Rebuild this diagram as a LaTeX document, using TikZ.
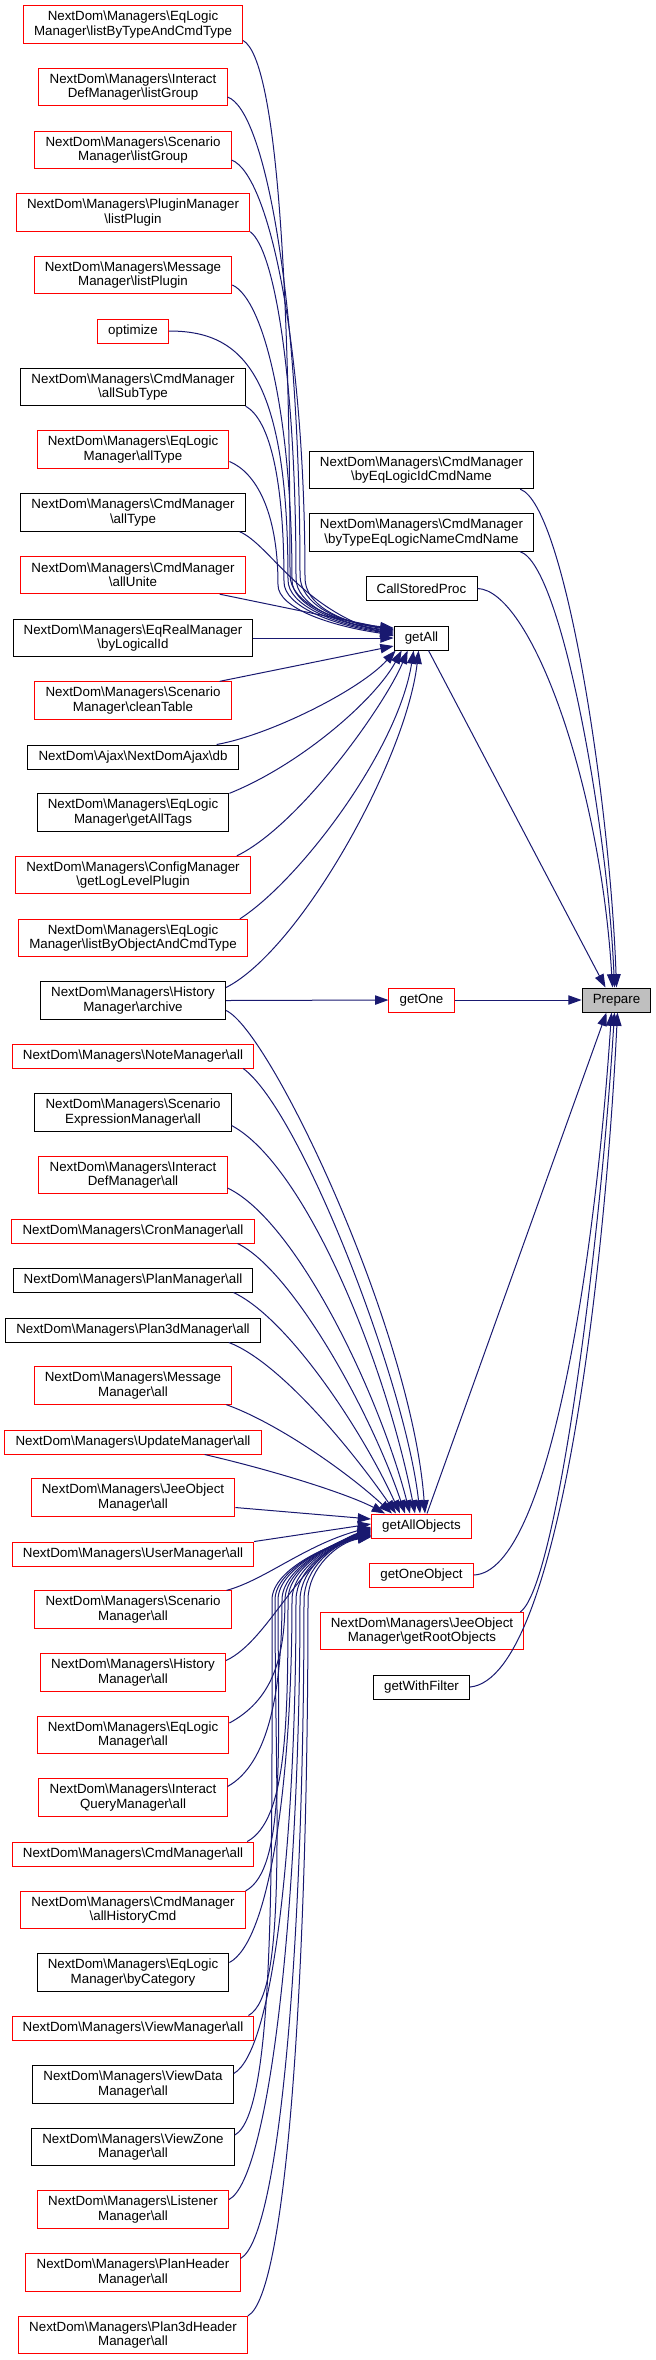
\documentclass[tikz,border=0pt]{standalone}
\usepackage{fontspec}
\setmainfont{Liberation Sans}
\usetikzlibrary{arrows.meta,calc}
\definecolor{edgeblue}{HTML}{191970}
\definecolor{prepfill}{HTML}{BFBFBF}
\definecolor{boxred}{HTML}{FF0000}
\newcommand{\bs}{\textbackslash}
\begin{document}
\begin{tikzpicture}[x=0.75pt,y=-0.75pt,
  box/.style={draw, line width=0.75pt, fill=white, inner xsep=8pt, inner ysep=0pt, align=center, font=\fontsize{10}{10.75}\selectfont},
  one/.style={box, minimum height=18pt},
  two/.style={box, minimum height=28pt},
  rd/.style={draw=boxred},
  bk/.style={draw=black},
  edge/.style={draw=edgeblue, line width=0.75pt, -{Triangle[length=10pt,width=7pt]}},
]
\useasboundingbox (0,0) rectangle (656,2360);

% left column
\node[two,rd] (n1) at (133,24.5) {NextDom\bs Managers\bs EqLogic\\Manager\bs listByTypeAndCmdType};
\node[two,rd] (n2) at (133,87) {NextDom\bs Managers\bs Interact\\DefManager\bs listGroup};
\node[two,rd] (n3) at (133,150) {NextDom\bs Managers\bs Scenario\\Manager\bs listGroup};
\node[two,rd] (n4) at (133,212.5) {NextDom\bs Managers\bs PluginManager\\\bs listPlugin};
\node[two,rd] (n5) at (133,275) {NextDom\bs Managers\bs Message\\Manager\bs listPlugin};
\node[one,rd] (n6) at (133,331) {optimize};
\node[two,bk] (n7) at (133,387) {NextDom\bs Managers\bs CmdManager\\\bs allSubType};
\node[two,rd] (n8) at (133,449.5) {NextDom\bs Managers\bs EqLogic\\Manager\bs allType};
\node[two,bk] (n9) at (133,512.5) {NextDom\bs Managers\bs CmdManager\\\bs allType};
\node[two,rd] (n10) at (133,575) {NextDom\bs Managers\bs CmdManager\\\bs allUnite};
\node[two,bk] (n11) at (133,638) {NextDom\bs Managers\bs EqRealManager\\\bs byLogicalId};
\node[two,rd] (n12) at (133,700.5) {NextDom\bs Managers\bs Scenario\\Manager\bs cleanTable};
\node[one,bk] (n13) at (133,757) {NextDom\bs Ajax\bs NextDomAjax\bs db};
\node[two,bk] (n14) at (133,812.5) {NextDom\bs Managers\bs EqLogic\\Manager\bs getAllTags};
\node[two,rd] (n15) at (133,875) {NextDom\bs Managers\bs ConfigManager\\\bs getLogLevelPlugin};
\node[two,rd] (n16) at (133,938) {NextDom\bs Managers\bs EqLogic\\Manager\bs listByObjectAndCmdType};
\node[two,bk] (n17) at (133,1000.5) {NextDom\bs Managers\bs History\\Manager\bs archive};
\node[one,rd] (n18) at (133,1056) {NextDom\bs Managers\bs NoteManager\bs all};
\node[two,bk] (n19) at (133,1112.5) {NextDom\bs Managers\bs Scenario\\ExpressionManager\bs all};
\node[two,rd] (n20) at (133,1175) {NextDom\bs Managers\bs Interact\\DefManager\bs all};
\node[one,rd] (n21) at (133,1231) {NextDom\bs Managers\bs CronManager\bs all};
\node[one,bk] (n22) at (133,1280) {NextDom\bs Managers\bs PlanManager\bs all};
\node[one,bk] (n23) at (133,1330) {NextDom\bs Managers\bs Plan3dManager\bs all};
\node[two,rd] (n24) at (133,1385.5) {NextDom\bs Managers\bs Message\\Manager\bs all};
\node[one,rd] (n25) at (133,1442) {NextDom\bs Managers\bs UpdateManager\bs all};
\node[two,rd] (n26) at (133,1497.5) {NextDom\bs Managers\bs JeeObject\\Manager\bs all};
\node[one,rd] (n27) at (133,1554) {NextDom\bs Managers\bs UserManager\bs all};
\node[two,rd] (n28) at (133,1609.5) {NextDom\bs Managers\bs Scenario\\Manager\bs all};
\node[two,rd] (n29) at (133,1672.5) {NextDom\bs Managers\bs History\\Manager\bs all};
\node[two,rd] (n30) at (133,1735) {NextDom\bs Managers\bs EqLogic\\Manager\bs all};
\node[two,rd] (n31) at (133,1797.5) {NextDom\bs Managers\bs Interact\\QueryManager\bs all};
\node[one,rd] (n32) at (133,1854) {NextDom\bs Managers\bs CmdManager\bs all};
\node[two,rd] (n33) at (133,1910) {NextDom\bs Managers\bs CmdManager\\\bs allHistoryCmd};
\node[two,bk] (n34) at (133,1972.5) {NextDom\bs Managers\bs EqLogic\\Manager\bs byCategory};
\node[one,rd] (n35) at (133,2028) {NextDom\bs Managers\bs ViewManager\bs all};
\node[two,bk] (n36) at (133,2084.5) {NextDom\bs Managers\bs ViewData\\Manager\bs all};
\node[two,bk] (n37) at (133,2147) {NextDom\bs Managers\bs ViewZone\\Manager\bs all};
\node[two,rd] (n38) at (133,2209.5) {NextDom\bs Managers\bs Listener\\Manager\bs all};
\node[two,rd] (n39) at (133,2272.5) {NextDom\bs Managers\bs PlanHeader\\Manager\bs all};
\node[two,rd] (n40) at (133,2335) {NextDom\bs Managers\bs Plan3dHeader\\Manager\bs all};

% middle column
\node[two,bk] (m1) at (421.5,470) {NextDom\bs Managers\bs CmdManager\\\bs byEqLogicIdCmdName};
\node[two,bk] (m2) at (421.5,532.5) {NextDom\bs Managers\bs CmdManager\\\bs byTypeEqLogicNameCmdName};
\node[one,bk] (m3) at (421.5,588.5) {CallStoredProc};
\node[one,bk] (getAll) at (421.5,638) {getAll};
\node[one,rd] (getOne) at (421.5,1000) {getOne};
\node[one,bk,fill=prepfill] (Prepare) at (616.5,1000) {Prepare};
\node[one,rd] (getAllObjects) at (421.5,1526) {getAllObjects};
\node[one,rd] (getOneObject) at (421.5,1575) {getOneObject};
\node[two,rd] (getRootObjects) at (422,1631) {NextDom\bs Managers\bs JeeObject\\Manager\bs getRootObjects};
\node[one,bk] (getWithFilter) at (421.5,1687) {getWithFilter};

% edges into getAll (upper bundle)
\draw[edge] ($(n1.east)+(0,16)$) .. controls (278,60) and (290,300) .. (290,575) .. controls (290,603) and (335,622) .. ($(getAll.west)+(0,-10)$);
\draw[edge] ($(n2.east)+(0,10)$) .. controls (265,110) and (300,300) .. (300,575) .. controls (300,603) and (335,622) .. ($(getAll.west)+(0,-9)$);
\draw[edge] ($(n3.east)+(0,10)$) .. controls (270,175) and (305,350) .. (305,578) .. controls (305,604) and (338,622) .. ($(getAll.west)+(0,-8)$);
\draw[edge] (n4.south east) .. controls (275,250) and (296,380) .. (296,578) .. controls (296,604) and (335,623) .. ($(getAll.west)+(0,-7)$);
\draw[edge] ($(n5.east)+(0,10)$) .. controls (265,300) and (292,420) .. (292,580) .. controls (292,605) and (335,623) .. ($(getAll.west)+(0,-6)$);
\draw[edge] (n6.east) .. controls (240,331) and (288,370) .. (288,580) .. controls (288,605) and (333,624) .. ($(getAll.west)+(0,-5)$);
\draw[edge] (n7.south east) .. controls (270,420) and (284,480) .. (284,582) .. controls (284,606) and (332,625) .. ($(getAll.west)+(0,-4)$);
\draw[edge] ($(n8.east)+(0,12)$) .. controls (255,472) and (278,510) .. (278,585) .. controls (278,608) and (330,626) .. ($(getAll.west)+(0,-3)$);
\draw[edge] ($(n9.south east)+(-6,0)$) .. controls (270,545) and (300,608) .. ($(getAll.west)+(0,-2)$);
\draw[edge] ($(n10.south east)+(-26,0)$) -- ($(getAll.west)+(0,-8)$);
\draw[edge] (n11.east) -- (getAll.west);
\draw[edge] ($(n12.north east)+(-12,0)$) -- ($(getAll.west)+(0,8)$);
\draw[edge] ($(n13.north east)+(-22,0)$) .. controls (270,735) and (360,690) .. ($(getAll.south west)+(2,0)$);
\draw[edge] (n14.north east) .. controls (300,765) and (375,700) .. ($(getAll.south west)+(8,0)$);
\draw[edge] ($(n15.north east)+(-14,0)$) .. controls (300,825) and (385,705) .. ($(getAll.south west)+(14,0)$);
\draw[edge] ($(n16.north east)+(-8,0)$) .. controls (300,880) and (398,750) .. ($(getAll.south west)+(20,0)$);
\draw[edge] ($(n17.east)+(0,-13)$) .. controls (300,950) and (406,760) .. ($(getAll.south west)+(25,0)$);

% archive -> getOne, getOne -> Prepare
\draw[edge] (n17.east) -- (getOne.west);
\draw[edge] (getOne.east) -- (Prepare.west);

% into Prepare
\draw[edge] ($(getAll.south)+(7,0)$) -- ($(Prepare.north)+(-11,0)$);
\draw[edge] ($(m1.south east)+(-14,0)$) .. controls (565,505) and (610,800) .. (Prepare.north);
\draw[edge] ($(m2.south east)+(-14,0)$) .. controls (562,565) and (608,830) .. ($(Prepare.north)+(-2,0)$);
\draw[edge] (m3.east) .. controls (530,590) and (600,780) .. ($(Prepare.north)+(-4,0)$);
\draw[edge] ($(getAllObjects.north)+(5.5,0)$) -- ($(Prepare.south)+(-10,0)$);
\draw[edge] (getOneObject.east) .. controls (550,1572) and (596,1250) .. ($(Prepare.south)+(-5,0)$);
\draw[edge] ($(getRootObjects.north east)+(-4,0)$) .. controls (556,1588) and (600,1250) .. ($(Prepare.south)+(-2,0)$);
\draw[edge] (getWithFilter.east) .. controls (562,1678) and (606,1250) .. ($(Prepare.south)+(1,0)$);

% into getAllObjects from above
\draw[edge] ($(n17.east)+(0,10)$) .. controls (270,1030) and (412,1330) .. ($(getAllObjects.north)+(3.5,0)$);
\draw[edge] ($(n18.south east)+(-11,0)$) .. controls (300,1110) and (405,1380) .. ($(getAllObjects.north)+(-1.5,0)$);
\draw[edge] ($(n19.east)+(0,13)$) .. controls (305,1165) and (385,1360) .. ($(getAllObjects.north)+(-6.5,0)$);
\draw[edge] ($(n20.east)+(0,13)$) .. controls (295,1220) and (378,1390) .. ($(getAllObjects.north)+(-11.5,0)$);
\draw[edge] ($(n21.south east)+(-17,0)$) .. controls (292,1270) and (370,1410) .. ($(getAllObjects.north)+(-16.5,0)$);
\draw[edge] ($(n22.south east)+(-20,0)$) .. controls (288,1318) and (362,1430) .. ($(getAllObjects.north)+(-21.5,0)$);
\draw[edge] ($(n23.south east)+(-32,0)$) .. controls (280,1362) and (352,1450) .. ($(getAllObjects.north)+(-25.5,0)$);
\draw[edge] ($(n24.south east)+(-6,0)$) .. controls (275,1422) and (345,1470) .. ($(getAllObjects.north)+(-29.5,0)$);
\draw[edge] ($(n25.south east)+(-57,0)$) .. controls (280,1472) and (350,1495) .. ($(getAllObjects.north west)+(14,0)$);
\draw[edge] ($(n26.east)+(0,10)$) -- ($(getAllObjects.west)+(0,-7)$);
\draw[edge] (n27.north east) -- ($(getAllObjects.west)+(0,-2)$);

% into getAllObjects from below
\draw[edge] ($(n28.north east)+(-5,0)$) .. controls (265,1580) and (305,1545) .. ($(getAllObjects.west)+(0,1)$);
\draw[edge] ($(n29.east)+(0,-12)$) .. controls (270,1640) and (300,1555) .. ($(getAllObjects.west)+(0,2)$);
\draw[edge] ($(n30.east)+(0,-12)$) .. controls (270,1701) and (285,1662) .. (285,1600) .. controls (285,1568) and (335,1542) .. ($(getAllObjects.west)+(0,3)$);
\draw[edge] ($(n31.east)+(0,-11)$) .. controls (268,1764) and (282,1693) .. (282,1600) .. controls (282,1568) and (335,1542) .. ($(getAllObjects.west)+(0,4)$);
\draw[edge] ($(n32.north east)+(-7,0)$) .. controls (287,1820) and (288,1721) .. (288,1600) .. controls (288,1568) and (335,1542) .. ($(getAllObjects.west)+(0,5)$);
\draw[edge] (n33.north east) .. controls (286,1869) and (278,1745) .. (278,1600) .. controls (278,1568) and (335,1542) .. ($(getAllObjects.west)+(0,6)$);
\draw[edge] ($(n34.east)+(0,-10)$) .. controls (270,1941) and (292,1780) .. (292,1600) .. controls (292,1568) and (335,1542) .. ($(getAllObjects.west)+(0,7)$);
\draw[edge] ($(n35.north east)+(-6,0)$) .. controls (288,1994) and (275,1808) .. (275,1600) .. controls (275,1568) and (335,1542) .. ($(getAllObjects.west)+(0,8)$);
\draw[edge] ($(n36.east)+(0,-11)$) .. controls (274,2051) and (296,1836) .. (296,1600) .. controls (296,1568) and (335,1542) .. ($(getAllObjects.west)+(0,9)$);
\draw[edge] ($(n37.east)+(0,-12)$) .. controls (275,2113) and (272,1868) .. (272,1600) .. controls (272,1568) and (335,1542) .. ($(getAllObjects.west)+(0,9.5)$);
\draw[edge] ($(n38.east)+(0,-10)$) .. controls (270,2178) and (300,1900) .. (300,1600) .. controls (300,1568) and (335,1542) .. ($(getAllObjects.west)+(0,10)$);
\draw[edge] ($(n39.east)+(0,-14)$) .. controls (281,2236) and (304,1930) .. (304,1600) .. controls (304,1568) and (335,1542) .. ($(getAllObjects.west)+(0,10.5)$);
\draw[edge] (n40.north east) .. controls (288,2294) and (308,1958) .. (308,1600) .. controls (308,1568) and (338,1542) .. ($(getAllObjects.west)+(0,11)$);
\end{tikzpicture}
\end{document}
